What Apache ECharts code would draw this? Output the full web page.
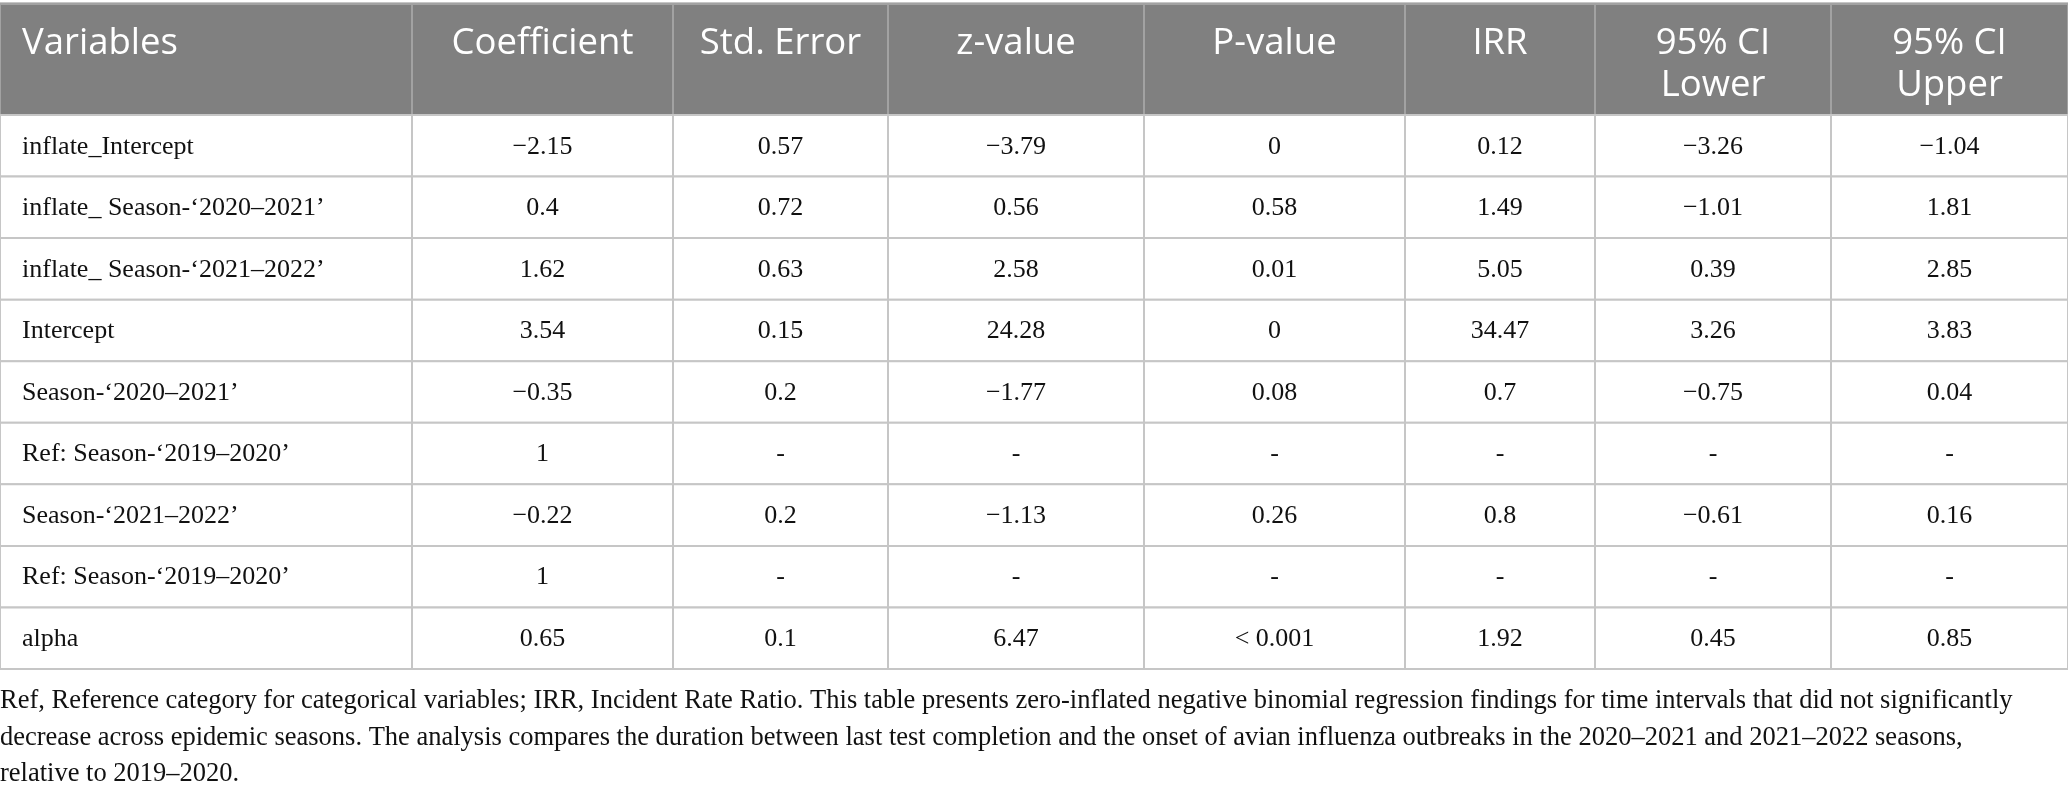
<!DOCTYPE html>
<html>
<head>
<meta charset="utf-8">
<script src="https://cdn.jsdelivr.net/npm/echarts@6/dist/echarts.min.js"></script>
<style>
html,body{margin:0;padding:0;background:#fff;}
#chart{width:2068px;height:797px;}
</style>
</head>
<body>
<div id="chart"></div>
<script>
// ---- data ----
const columns = ['Variables', 'Coefficient', 'Std. Error', 'z-value', 'P-value', 'IRR', '95% CI\nLower', '95% CI\nUpper'];
const variables = [
  'inflate_Intercept',
  'inflate_ Season-\u20182020\u20132021\u2019',
  'inflate_ Season-\u20182021\u20132022\u2019',
  'Intercept',
  'Season-\u20182020\u20132021\u2019',
  'Ref: Season-\u20182019\u20132020\u2019',
  'Season-\u20182021\u20132022\u2019',
  'Ref: Season-\u20182019\u20132020\u2019',
  'alpha'
];
const coefficient = [-2.15, 0.4, 1.62, 3.54, -0.35, 1, -0.22, 1, 0.65];
const stdError    = [0.57, 0.72, 0.63, 0.15, 0.2, null, 0.2, null, 0.1];
const zValue      = [-3.79, 0.56, 2.58, 24.28, -1.77, null, -1.13, null, 6.47];
const pValue      = [0, 0.58, 0.01, 0, 0.08, null, 0.26, null, '< 0.001'];
const irr         = [0.12, 1.49, 5.05, 34.47, 0.7, null, 0.8, null, 1.92];
const ciLower     = [-3.26, -1.01, 0.39, 3.26, -0.75, null, -0.61, null, 0.45];
const ciUpper     = [-1.04, 1.81, 2.85, 3.83, 0.04, null, 0.16, null, 0.85];
const captionLines = [
  'Ref, Reference category for categorical variables; IRR, Incident Rate Ratio. This table presents zero-inflated negative binomial regression findings for time intervals that did not significantly',
  'decrease across epidemic seasons. The analysis compares the duration between last test completion and the onset of avian influenza outbreaks in the 2020\u20132021 and 2021\u20132022 seasons,',
  'relative to 2019\u20132020.'
];

// ---- layout / style ----
const colWidths = [412, 261, 215, 256, 261, 190, 236, 237];
const colStarts = [];
colWidths.reduce((acc, w, i) => { colStarts[i] = acc; return acc + w; }, 0);
const totalW = colWidths.reduce((a, b) => a + b, 0);
const bodyCols = [variables, coefficient, stdError, zValue, pValue, irr, ciLower, ciUpper];

function fmt(v) {
  if (v === null || v === undefined) return '-';
  if (typeof v === 'number') return v < 0 ? '\u2212' + String(Math.abs(v)) : String(v);
  return v;
}

const headerData = columns.map((c, i) => [i, 0]);
const bodyData = [];
variables.forEach((v, r) => { for (let c = 0; c < columns.length; c++) bodyData.push([c, r]); });

const headerFont = '"Open Sans", "Noto Sans", sans-serif';
const bodyFont = '"Liberation Serif", "DejaVu Serif", serif';

function cellBox(api, c, r) {
  const x0 = api.coord([colStarts[c], r])[0];
  const x1 = api.coord([colStarts[c] + colWidths[c], r])[0];
  const yc = api.coord([0, r])[1];
  const h = api.size([0, 1])[1];
  return { x0, x1, top: yc - h / 2, h, yc };
}

const chart = echarts.init(document.getElementById('chart'), null, { renderer: 'canvas' });
chart.setOption({
  animation: false,
  backgroundColor: '#ffffff',
  grid: [
    { left: 0, top: 4, width: totalW, height: 111 },
    { left: 0, top: 115, width: totalW, height: 554 }
  ],
  xAxis: [
    { type: 'value', gridIndex: 0, min: 0, max: totalW, show: false },
    { type: 'value', gridIndex: 1, min: 0, max: totalW, show: false }
  ],
  yAxis: [
    { type: 'category', gridIndex: 0, data: ['header'], show: false },
    { type: 'category', gridIndex: 1, data: variables.map((v, i) => i), inverse: true, show: false }
  ],
  series: [
    {
      type: 'custom',
      xAxisIndex: 0, yAxisIndex: 0,
      data: headerData,
      renderItem: function (params, api) {
        const c = api.value(0);
        const b = cellBox(api, c, 0);
        return {
          type: 'group',
          children: [
            { type: 'rect', shape: { x: b.x0, y: b.top, width: b.x1 - b.x0, height: b.h },
              style: { fill: '#808080', stroke: '#a2a2a2', lineWidth: 2 } },
            { type: 'text',
              style: {
                text: columns[c],
                x: c === 0 ? b.x0 + 22 : (b.x0 + b.x1) / 2,
                y: b.top + 18.5,
                align: c === 0 ? 'left' : 'center',
                verticalAlign: 'top',
                lineHeight: 42,
                fontSize: 36.5,
                fontFamily: headerFont,
                fill: '#ffffff'
              } }
          ]
        };
      }
    },
    {
      type: 'custom',
      xAxisIndex: 1, yAxisIndex: 1,
      data: bodyData,
      renderItem: function (params, api) {
        const c = api.value(0);
        const r = api.value(1);
        const b = cellBox(api, c, r);
        return {
          type: 'group',
          children: [
            { type: 'rect', shape: { x: b.x0, y: b.top, width: b.x1 - b.x0, height: b.h },
              style: { fill: '#ffffff', stroke: '#c6c6c6', lineWidth: 2 } },
            { type: 'text',
              style: {
                text: fmt(bodyCols[c][r]),
                x: c === 0 ? b.x0 + 22 : (b.x0 + b.x1) / 2,
                y: b.yc + 1,
                align: c === 0 ? 'left' : 'center',
                verticalAlign: 'middle',
                fontSize: 26,
                fontFamily: bodyFont,
                fill: '#111111'
              } }
          ]
        };
      }
    }
  ],
  graphic: [
    { type: 'rect', left: 0, top: 2, shape: { width: totalW, height: 2 }, style: { fill: '#c6c6c6' }, silent: true },
    { type: 'text', left: 0, top: 683,
      style: {
        text: captionLines.join('\n'),
        fontSize: 26.5,
        lineHeight: 36.5,
        fontFamily: bodyFont,
        fill: '#111111'
      } }
  ]
});
</script>
</body>
</html>
